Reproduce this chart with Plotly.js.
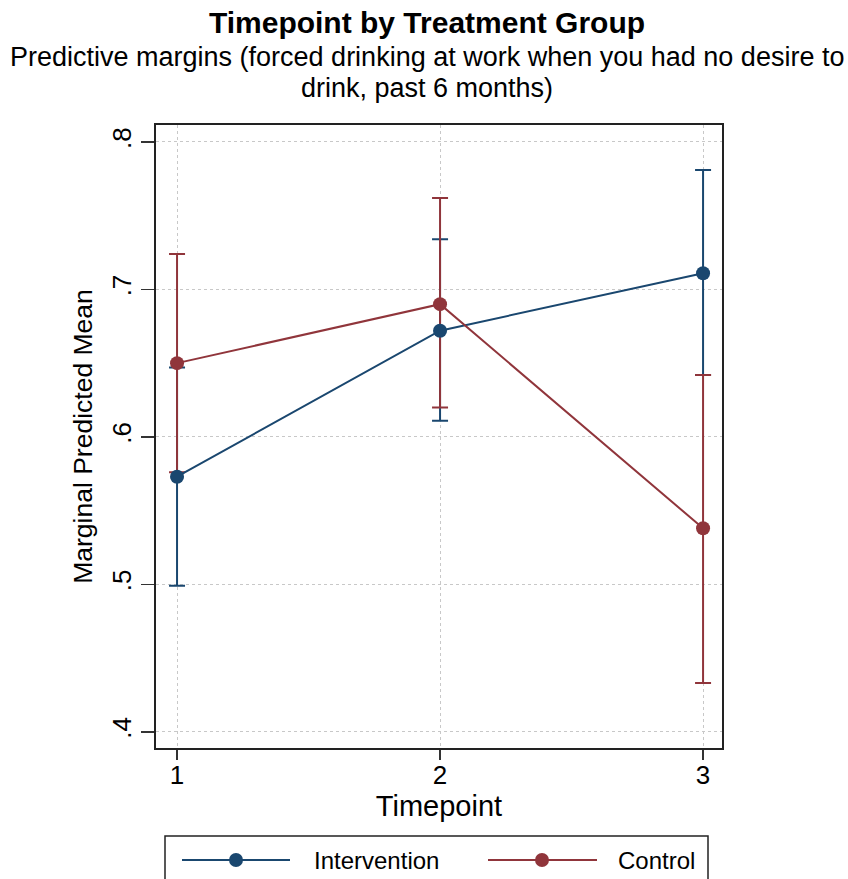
<!DOCTYPE html>
<html>
<head>
<meta charset="utf-8">
<script src="https://cdn.plot.ly/plotly-3.0.1.min.js"></script>
<style>html,body{margin:0;padding:0;background:#fff;}#chart{width:848px;height:879px;}</style>
</head>
<body>
<div id="chart"></div>
<script>
// ---- data ----
const timepoints = [1, 2, 3];
const seriesNames = ["Intervention", "Control"];
const interventionMean  = [0.573, 0.672, 0.711];
const interventionLower = [0.499, 0.611, 0.642];
const interventionUpper = [0.647, 0.734, 0.781];
const controlMean  = [0.650, 0.690, 0.538];
const controlLower = [0.576, 0.620, 0.433];
const controlUpper = [0.724, 0.762, 0.642];
const yTickVals = [0.4, 0.5, 0.6, 0.7, 0.8];
const yTickText = [".4", ".5", ".6", ".7", ".8"];
const xTickText = ["1", "2", "3"];
const titleText = "Timepoint by Treatment Group";
const subtitleLines = ["Predictive margins (forced drinking at work when you had no desire to", "drink, past 6 months)"];
const xTitle = "Timepoint";
const yTitle = "Marginal Predicted Mean";

// ---- style ----
const NAVY = "#1a476f";
const MAROON = "#90353b";
const FONT = "Liberation Sans, Arial, Helvetica, sans-serif";

const W = 848, H = 879;
const M = {l: 156, r: 126, t: 125, b: 131};
const PW = W - M.l - M.r, PH = H - M.t - M.b;
const px = x => (x - M.l) / PW;
const py = y => (H - M.b - y) / PH;

function ciTrace(mean, lower, upper, color) {
  return {
    x: timepoints, y: mean, type: "scatter", mode: "markers",
    marker: {size: 1, color: "rgba(0,0,0,0)"},
    error_y: {
      type: "data", symmetric: false,
      array: upper.map((u, i) => u - mean[i]),
      arrayminus: lower.map((l, i) => mean[i] - l),
      color: color, thickness: 2, width: 8
    },
    showlegend: false, hoverinfo: "skip"
  };
}
function lineTrace(mean, color, name) {
  return {
    x: timepoints, y: mean, type: "scatter", mode: "lines+markers", name: name,
    line: {color: color, width: 2},
    marker: {color: color, size: 14},
    showlegend: false
  };
}

const data = [
  ciTrace(interventionMean, interventionLower, interventionUpper, NAVY),
  ciTrace(controlMean, controlLower, controlUpper, MAROON),
  lineTrace(interventionMean, NAVY, seriesNames[0]),
  lineTrace(controlMean, MAROON, seriesNames[1])
];

const cx = px(427);
const annotations = [
  {text: subtitleLines[0], x: cx, y: py(57), xref: "paper", yref: "paper", showarrow: false, xanchor: "center", yanchor: "middle", font: {family: FONT, size: 27, color: "#000"}},
  {text: subtitleLines[1], x: cx, y: py(88), xref: "paper", yref: "paper", showarrow: false, xanchor: "center", yanchor: "middle", font: {family: FONT, size: 27, color: "#000"}},
  {text: seriesNames[0], x: px(312), y: py(860), xref: "paper", yref: "paper", showarrow: false, xanchor: "left", yanchor: "middle", font: {family: FONT, size: 24, color: "#000"}},
  {text: seriesNames[1], x: px(616), y: py(860), xref: "paper", yref: "paper", showarrow: false, xanchor: "left", yanchor: "middle", font: {family: FONT, size: 24, color: "#000"}}
];

const shapes = [
  {type: "rect", xref: "paper", yref: "paper", x0: px(165), x1: px(708), y0: py(900), y1: py(836), line: {color: "#222", width: 1.5}, fillcolor: "rgba(0,0,0,0)"},
  {type: "line", xref: "paper", yref: "paper", x0: px(182), x1: px(290), y0: py(860), y1: py(860), line: {color: NAVY, width: 2}},
  {type: "circle", xref: "paper", yref: "paper", xsizemode: "pixel", ysizemode: "pixel", xanchor: px(236), yanchor: py(860), x0: -7, x1: 7, y0: -7, y1: 7, fillcolor: NAVY, line: {color: NAVY, width: 0}},
  {type: "line", xref: "paper", yref: "paper", x0: px(488), x1: px(597), y0: py(860), y1: py(860), line: {color: MAROON, width: 2}},
  {type: "circle", xref: "paper", yref: "paper", xsizemode: "pixel", ysizemode: "pixel", xanchor: px(542), yanchor: py(860), x0: -7, x1: 7, y0: -7, y1: 7, fillcolor: MAROON, line: {color: MAROON, width: 0}}
];

const layout = {
  width: W, height: H,
  margin: M,
  paper_bgcolor: "#fff", plot_bgcolor: "#fff",
  font: {family: FONT, color: "#000"},
  title: {text: "<b>" + titleText + "</b>", x: cx, xref: "paper", xanchor: "center", y: 1 - 22 / H, yref: "container", yanchor: "middle", font: {family: FONT, size: 30, color: "#000"}},
  showlegend: false,
  xaxis: {
    range: [0.92, 3.072], tickvals: timepoints, ticktext: xTickText,
    ticks: "outside", ticklen: 10, tickwidth: 1.5, tickcolor: "#333",
    ticklabelstandoff: -7,
    showgrid: true, gridcolor: "#c8c8c8", griddash: "dot", gridwidth: 1,
    zeroline: false, showline: true, mirror: true, linecolor: "#222", linewidth: 2,
    tickfont: {family: FONT, size: 26, color: "#000"},
    title: {text: xTitle, font: {family: FONT, size: 29, color: "#000"}, standoff: 0},
    automargin: false
  },
  yaxis: {
    range: [0.389, 0.8115], tickvals: yTickVals, ticktext: yTickText, tickangle: -90,
    ticks: "outside", ticklen: 13, tickwidth: 1.5, tickcolor: "#333",
    showgrid: true, gridcolor: "#c8c8c8", griddash: "dot", gridwidth: 1,
    zeroline: false, showline: true, mirror: true, linecolor: "#222", linewidth: 2,
    tickfont: {family: FONT, size: 26, color: "#000"},
    title: {text: yTitle, font: {family: FONT, size: 26.5, color: "#000"}, standoff: 6},
    automargin: false
  },
  annotations: annotations,
  shapes: shapes
};

Plotly.newPlot("chart", data, layout, {displayModeBar: false, staticPlot: true});
</script>
</body>
</html>
